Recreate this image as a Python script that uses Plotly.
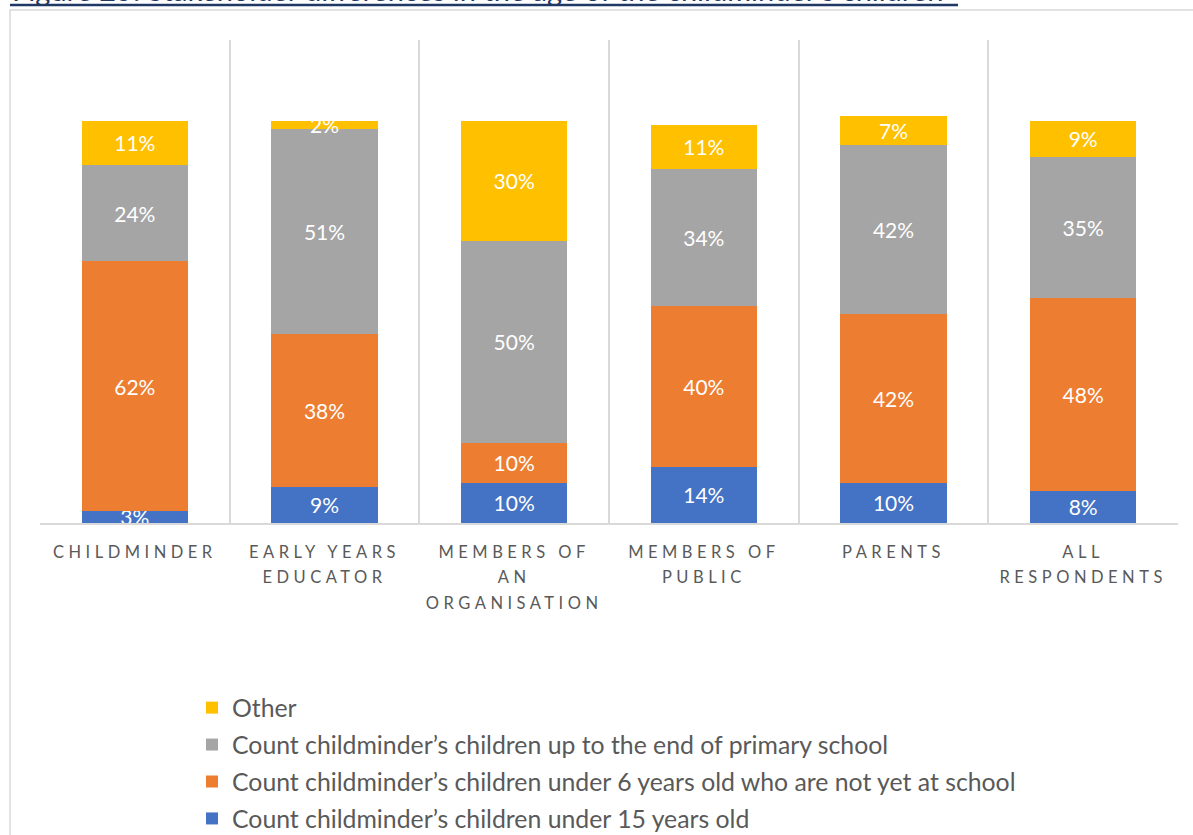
import plotly.graph_objects as go

# Respondent groups (x categories) and the share of each answer, in percent
categories = [
    "CHILDMINDER",
    "EARLY YEARS<br>EDUCATOR",
    "MEMBERS OF<br>AN<br>ORGANISATION",
    "MEMBERS OF<br>PUBLIC",
    "PARENTS",
    "ALL<br>RESPONDENTS",
]
under_15 = [3, 9, 10, 14, 10, 8]
under_6_not_school = [62, 38, 10, 40, 42, 48]
end_of_primary = [24, 51, 50, 34, 42, 35]
other = [11, 2, 30, 11, 7, 9]

series = [
    ("Count childminder’s children under 15 years old", under_15, "#4472C4"),
    ("Count childminder’s children under 6 years old who are not yet at school", under_6_not_school, "#ED7D31"),
    ("Count childminder’s children up to the end of primary school", end_of_primary, "#A5A5A5"),
    ("Other", other, "#FFC000"),
]

FONT = "Lato"
W, H = 1193, 835
L, R, T, B = 40, 15, 40, 312
PW, PH = W - L - R, H - T - B


def px_x(px):
    return (px - L) / PW


def px_y(py):
    return (H - B - py) / PH


fig = go.Figure()
for i, (name, vals, color) in enumerate(series):
    fig.add_trace(go.Bar(
        x=categories,
        y=vals,
        name=name,
        legendgroup=str(i),
        legendrank=len(series) - i,
        marker=dict(color=color, line=dict(width=0)),
        texttemplate="%{y}%",
        textposition="inside",
        insidetextanchor="middle",
        constraintext="none",
        textangle=0,
        textfont=dict(family=FONT, size=21, color="white"),
        cliponaxis=True,
        hovertemplate="%{y}%<extra>" + name + "</extra>",
    ))

fig.update_layout(
    width=W,
    height=H,
    margin=dict(l=L, r=R, t=T, b=B, pad=0, autoexpand=False),
    barmode="stack",
    bargap=0.44,
    paper_bgcolor="white",
    plot_bgcolor="white",
    font=dict(family=FONT, color="#595959"),
    showlegend=True,
    legend=dict(
        x=px_x(192),
        xanchor="left",
        y=px_y(685),
        yanchor="top",
        traceorder="grouped",
        tracegroupgap=1.7,
        font=dict(family=FONT, size=24.8, color="#595959"),
        bgcolor="rgba(0,0,0,0)",
    ),
    xaxis=dict(
        type="category",
        tickson="boundaries",
        showgrid=True,
        gridcolor="#D9D9D9",
        gridwidth=1.5,
        showline=True,
        linecolor="#D9D9D9",
        linewidth=1.5,
        ticks="",
        tickfont=dict(family=FONT, size=16.5, color="#595959"),
        ticklabelstandoff=13,
        fixedrange=True,
    ),
    yaxis=dict(
        range=[0, 120],
        showgrid=False,
        zeroline=False,
        showticklabels=False,
        showline=False,
        fixedrange=True,
    ),
    shapes=[
        # outer chart frame
        dict(type="rect", xref="paper", yref="paper",
             x0=px_x(10), x1=px_x(1260), y0=px_y(900), y1=px_y(10),
             line=dict(color="#D9D9D9", width=1.5), fillcolor="rgba(0,0,0,0)",
             layer="below"),
        # caption underline
        dict(type="line", xref="paper", yref="paper",
             x0=px_x(10), x1=px_x(958), y0=px_y(5), y1=px_y(5),
             line=dict(color="#1F3864", width=2.5)),
    ],
    annotations=[
        dict(text="Figure 25: Stakeholder differences in the age of the childminder’s children",
             xref="paper", yref="paper", x=px_x(10), y=px_y(9),
             xanchor="left", yanchor="bottom", showarrow=False,
             font=dict(family=FONT, size=29, color="#1F3864")),
    ],
)

# Letter-spaced category labels with roomier line spacing
post = """
var gd = document.getElementById('{plot_id}');
var st = document.createElement('style');
st.textContent = '.xtick text{letter-spacing:4.5px}';
document.head.appendChild(st);
function spaceLines(){
  gd.querySelectorAll('.xtick text tspan.line').forEach(function(t){
    if (t.getAttribute('data-sp')) return;
    var dy = t.getAttribute('dy');
    if (dy && dy.indexOf('em') > 0) {
      t.setAttribute('dy', (parseFloat(dy) * 1.2) + 'em');
    }
    t.setAttribute('data-sp', '1');
  });
}
spaceLines();
gd.on('plotly_afterplot', spaceLines);
"""

fig.write_html("out.html", post_script=post, config=dict(displayModeBar=False))
